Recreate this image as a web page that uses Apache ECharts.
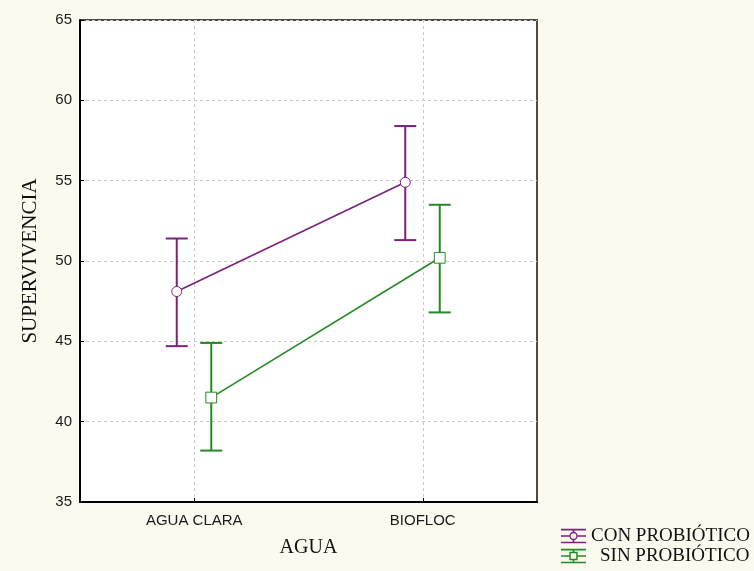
<!DOCTYPE html>
<html>
<head>
<meta charset="utf-8">
<script src="https://cdn.jsdelivr.net/npm/echarts@6/dist/echarts.min.js"></script>
<style>html,body{margin:0;padding:0;background:#fcf9ef;}#c{width:754px;height:571px;}</style>
</head>
<body>
<div id="c"></div>
<script>
const categories = ['AGUA CLARA', 'BIOFLOC'];
const seriesNames = ['CON PROBIÓTICO', 'SIN PROBIÓTICO'];
const conMean = [48.1, 54.9];
const conLow = [44.7, 51.3];
const conHigh = [51.4, 58.4];
const sinMean = [41.5, 50.2];
const sinLow = [38.2, 46.8];
const sinHigh = [44.9, 53.5];
const yTicks = [35, 40, 45, 50, 55, 60, 65];

const PURPLE = '#7b1f80';
const GREEN = '#238b23';

const circleIcon = 'path://M0 0H24V1.6H0Z M0 12.4H24V14H0Z M0 6.2H8V7.8H0Z M16 6.2H24V7.8H16Z M11.2 1.6H12.8V3.2H11.2Z M11.2 10.8H12.8V12.4H11.2Z M8 7A4 4 0 1 1 16 7A4 4 0 1 1 8 7Z M9.3 7A2.7 2.7 0 1 0 14.7 7A2.7 2.7 0 1 0 9.3 7Z';
const squareIcon = 'path://M0 0H24V1.6H0Z M0 12.4H24V14H0Z M0 6.2H8V7.8H0Z M16 6.2H24V7.8H16Z M11.2 1.6H12.8V3H11.2Z M11.2 11H12.8V12.4H11.2Z M8 3H16V11H8Z M9.4 4.4V9.6H14.6V4.4Z';

function makeData(mean, low, high) {
  return categories.map((c, i) => [i, mean[i], low[i], high[i]]);
}

function makeRender(mean, color, offset, symbol) {
  return function (params, api) {
    const i = api.value(0);
    const p = api.coord([i, api.value(1)]);
    const lo = api.coord([i, api.value(2)]);
    const hi = api.coord([i, api.value(3)]);
    const x = p[0] + offset;
    const capHalf = 11;
    const children = [];
    if (i < categories.length - 1) {
      const q = api.coord([i + 1, mean[i + 1]]);
      children.push({
        type: 'line',
        shape: { x1: x, y1: p[1], x2: q[0] + offset, y2: q[1] },
        style: { stroke: color, lineWidth: 1.6 }
      });
    }
    const bs = { stroke: color, lineWidth: 2 };
    children.push({ type: 'line', shape: { x1: x, y1: hi[1], x2: x, y2: lo[1] }, style: bs });
    children.push({ type: 'line', shape: { x1: x - capHalf, y1: hi[1], x2: x + capHalf, y2: hi[1] }, style: bs });
    children.push({ type: 'line', shape: { x1: x - capHalf, y1: lo[1], x2: x + capHalf, y2: lo[1] }, style: bs });
    if (symbol === 'circle') {
      children.push({ type: 'circle', shape: { cx: x, cy: p[1], r: 5 }, style: { fill: '#fff', stroke: color, lineWidth: 1 } });
    } else {
      children.push({ type: 'rect', shape: { x: x - 5.4, y: p[1] - 5.4, width: 10.8, height: 10.8 }, style: { fill: '#fff', stroke: color, lineWidth: 1 } });
    }
    return { type: 'group', children: children };
  };
}

const legendText = { fontFamily: 'Liberation Serif', fontSize: 19, color: '#111', lineHeight: 20 };

const chart = echarts.init(document.getElementById('c'), null, { renderer: 'canvas' });
chart.setOption({
  backgroundColor: '#fcf9ef',
  animation: false,
  grid: {
    left: 80, top: 20, right: 217, bottom: 69,
    show: true, backgroundColor: '#ffffff', borderColor: '#111', borderWidth: 1.5
  },
  legend: [
    {
      left: 561, top: 526, padding: 0,
      itemWidth: 25, itemHeight: 15,
      textStyle: legendText,
      data: [{ name: seriesNames[0], icon: circleIcon, itemStyle: { color: PURPLE } }]
    },
    {
      left: 561, top: 546, padding: 0,
      itemWidth: 25, itemHeight: 15,
      textStyle: Object.assign({}, legendText, { padding: [0, 0, 0, 9] }),
      data: [{ name: seriesNames[1], icon: squareIcon, itemStyle: { color: GREEN } }]
    }
  ],
  xAxis: {
    type: 'category',
    data: categories,
    boundaryGap: true,
    name: 'AGUA',
    nameLocation: 'middle',
    nameGap: 36,
    nameTextStyle: { fontFamily: 'Liberation Serif', fontSize: 20, color: '#111' },
    axisLine: { lineStyle: { color: '#000', width: 2 } },
    axisTick: { show: true, inside: true, alignWithLabel: true, length: 4, lineStyle: { color: '#000' } },
    axisLabel: { fontFamily: 'Liberation Sans', fontSize: 15, color: '#1a1a1a', margin: 11 },
    splitLine: { show: true, alignWithLabel: true, lineStyle: { color: '#c8c8c8', type: [3, 3], width: 1 } }
  },
  yAxis: {
    type: 'value',
    min: yTicks[0],
    max: yTicks[yTicks.length - 1],
    interval: 5,
    name: 'SUPERVIVENCIA',
    nameLocation: 'middle',
    nameGap: 39,
    nameTextStyle: { fontFamily: 'Liberation Serif', fontSize: 21, color: '#111' },
    axisLine: { show: true, lineStyle: { color: '#000', width: 2 } },
    axisTick: { show: true, inside: true, length: 4, lineStyle: { color: '#000' } },
    axisLabel: { fontFamily: 'Liberation Sans', fontSize: 15, color: '#1a1a1a', margin: 8 },
    splitLine: { show: true, lineStyle: { color: '#c8c8c8', type: [3, 3], width: 1 } }
  },
  series: [
    {
      name: seriesNames[0],
      type: 'custom',
      itemStyle: { color: PURPLE },
      renderItem: makeRender(conMean, PURPLE, -17.5, 'circle'),
      encode: { x: 0, y: [1, 2, 3] },
      data: makeData(conMean, conLow, conHigh),
      z: 3
    },
    {
      name: seriesNames[1],
      type: 'custom',
      itemStyle: { color: GREEN },
      renderItem: makeRender(sinMean, GREEN, 17, 'square'),
      encode: { x: 0, y: [1, 2, 3] },
      data: makeData(sinMean, sinLow, sinHigh),
      z: 3
    }
  ]
});
</script>
</body>
</html>
